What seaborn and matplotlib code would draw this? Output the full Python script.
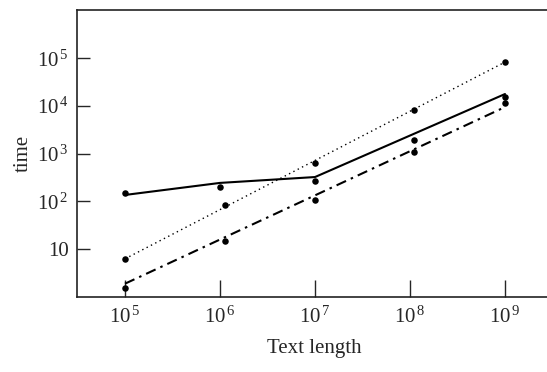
import numpy as np
import pandas as pd
import matplotlib
matplotlib.use("Agg")
import matplotlib.pyplot as plt
import seaborn as sns
from matplotlib.ticker import FixedLocator, FuncFormatter

# measured points (dots)
solid_x = [1e5, 1e6, 1e7, 1.1e8, 1e9]
solid_y = [150, 200, 270, 1950, 15500]
dotted_x = [1e5, 1.12e6, 1e7, 1.1e8, 1e9]
dotted_y = [6.3, 85, 640, 8300, 83000]
dashdot_x = [1e5, 1.12e6, 1e7, 1.1e8, 1e9]
dashdot_y = [1.55, 15, 108, 1090, 11500]

# fitted lines
solid_line_x = [1e5, 1e6, 1e7, 1e9]
solid_line_y = [137, 245, 325, 17800]
dotted_line_x = [1e5, 1e9]
dotted_line_y = [6.3, 83000]
dashdot_line_x = [1e5, 1e9]
dashdot_line_y = [1.9, 9500]

x_ticks = [1e5, 1e6, 1e7, 1e8, 1e9]
y_ticks = [10, 1e2, 1e3, 1e4, 1e5]

sns.set_style("ticks")
plt.rcParams['font.family'] = ['Liberation Serif', 'DejaVu Serif']
plt.rcParams['mathtext.fontset'] = 'custom'
plt.rcParams['mathtext.rm'] = 'Liberation Serif'
plt.rcParams['mathtext.it'] = 'Liberation Serif:italic'

dots = pd.concat([
    pd.DataFrame({'x': solid_x, 'y': solid_y, 's': 'solid'}),
    pd.DataFrame({'x': dotted_x, 'y': dotted_y, 's': 'dotted'}),
    pd.DataFrame({'x': dashdot_x, 'y': dashdot_y, 's': 'dashdot'}),
])

fig = plt.figure(figsize=(5.47, 3.72), dpi=100)
ax = fig.add_axes([77 / 547, 75 / 372, 475.5 / 547, 287 / 372])

sns.lineplot(x=solid_line_x, y=solid_line_y, ax=ax, color='black', lw=1.5)
sns.lineplot(x=dotted_line_x, y=dotted_line_y, ax=ax, color='black', lw=1.0,
             linestyle=(0, (1, 2.5)))
sns.lineplot(x=dashdot_line_x, y=dashdot_line_y, ax=ax, color='black', lw=1.5,
             linestyle=(0, (5, 2.5, 1.2, 2.5)))
sns.scatterplot(data=dots, x='x', y='y', ax=ax, color='black', s=22,
                edgecolor='black', linewidth=0, legend=False, zorder=5)

ax.set_xscale('log')
ax.set_yscale('log')
ax.set_xlim(10 ** 4.495, 10 ** 9.5)
ax.set_ylim(1, 10 ** 6.01)

ax.xaxis.set_major_locator(FixedLocator(x_ticks))
ax.yaxis.set_major_locator(FixedLocator(y_ticks))
ax.minorticks_off()


def fmt(v, pos):
    e = int(round(np.log10(v)))
    if e == 1:
        return '10'
    return r'$10^{\,%d}$' % e


ax.xaxis.set_major_formatter(FuncFormatter(fmt))
ax.yaxis.set_major_formatter(FuncFormatter(fmt))
ax.tick_params(axis='x', direction='in', length=12.5, width=1, pad=7,
               labelsize=15, top=False)
ax.tick_params(axis='y', direction='in', length=9, width=1, pad=6,
               labelsize=15, right=False)

for side in ['left', 'bottom', 'top']:
    ax.spines[side].set_linewidth(1.2)
    ax.spines[side].set_color('#222222')
ax.spines['right'].set_visible(False)

ax.set_xlabel("Text length", fontsize=15, labelpad=8)
ax.set_ylabel("time", fontsize=15, labelpad=3)

fig.savefig("out.png", dpi=100)
